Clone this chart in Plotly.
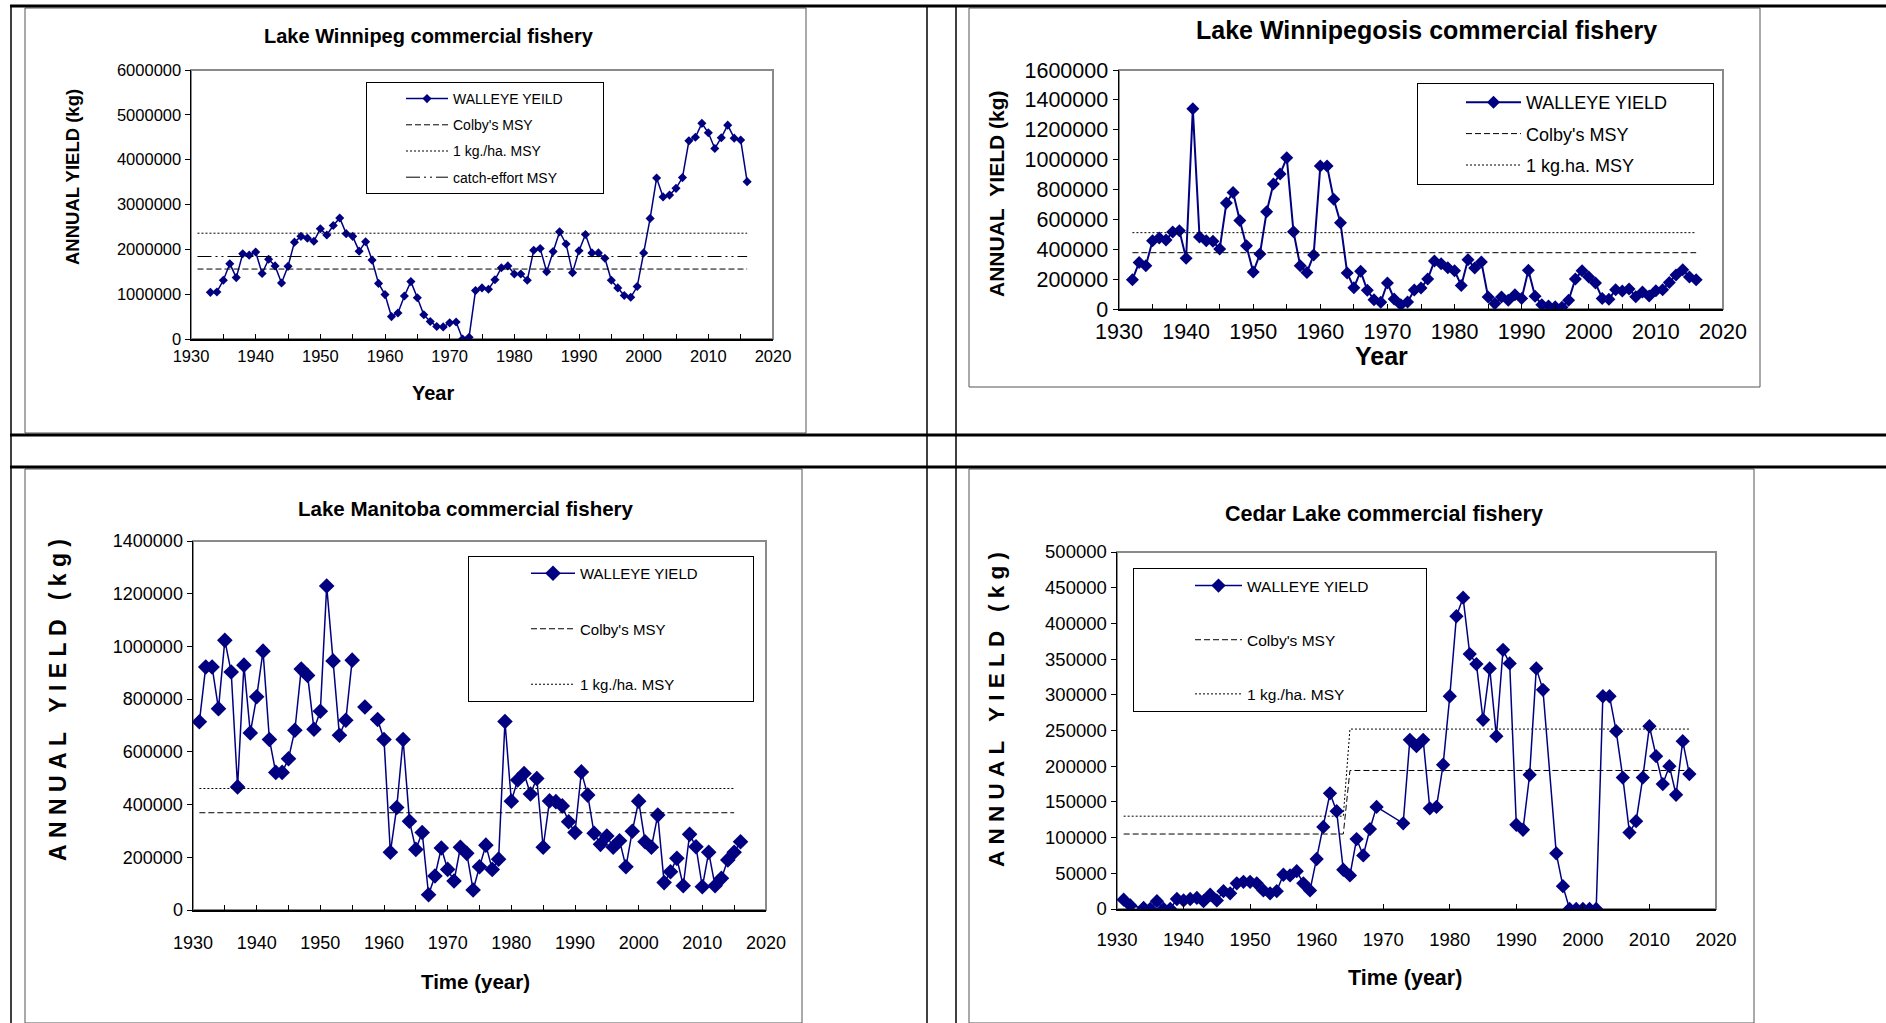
import plotly.graph_objects as go

W, H = 1886, 1023

# ---------------- data ----------------
winnipeg_years = list(range(1933, 2017))
winnipeg_yield = [1040000, 1050000, 1310000, 1680000, 1370000, 1900000, 1870000, 1940000, 1460000, 1780000,
                  1630000, 1250000, 1620000, 2160000, 2290000, 2250000, 2180000, 2460000, 2320000, 2530000,
                  2700000, 2350000, 2290000, 1960000, 2170000, 1760000, 1240000, 990000, 500000, 580000,
                  960000, 1280000, 920000, 540000, 390000, 280000, 270000, 360000, 380000, 0,
                  40000, 1080000, 1140000, 1110000, 1320000, 1590000, 1630000, 1450000, 1450000, 1310000,
                  1980000, 2020000, 1500000, 1950000, 2390000, 2120000, 1480000, 1970000, 2330000, 1920000,
                  1920000, 1800000, 1310000, 1140000, 970000, 930000, 1170000, 1920000, 2690000, 3590000,
                  3170000, 3210000, 3360000, 3600000, 4420000, 4500000, 4810000, 4600000, 4250000, 4490000,
                  4770000, 4480000, 4440000, 3510000]
winnipeg_msy_years = [1931, 2016]
winnipeg_colby = [1560000, 1560000]
winnipeg_kgha = [2360000, 2360000]
winnipeg_catch = [1840000, 1840000]

winnipegosis_years = list(range(1932, 2017))
winnipegosis_yield = [196000, 312000, 290000, 457000, 475000, 462000, 515000, 524000, 339000, 1340000,
                      482000, 457000, 453000, 401000, 709000, 780000, 593000, 424000, 247000, 368000,
                      651000, 836000, 903000, 1012000, 517000, 290000, 245000, 361000, 957000, 957000,
                      734000, 577000, 241000, 143000, 252000, 125000, 62000, 45000, 174000, 67000,
                      29000, 47000, 127000, 140000, 201000, 321000, 303000, 276000, 256000, 158000,
                      330000, 274000, 314000, 80000, 36000, 80000, 58000, 96000, 71000, 259000,
                      85000, 29000, 20000, 15000, 11000, 58000, 201000, 256000, 214000, 174000,
                      71000, 65000, 129000, 120000, 134000, 82000, 114000, 87000, 123000, 129000,
                      178000, 227000, 263000, 214000, 196000]
winnipegosis_msy_years = [1932, 2016]
winnipegosis_colby = [377000, 377000]
winnipegosis_kgha = [511000, 511000]

manitoba_years = list(range(1931, 2017))
manitoba_yield = [714000, 922000, 922000, 764000, 1023000, 903000, 467000, 929000, 672000, 809000,
                  982000, 647000, 522000, 522000, 574000, 682000, 914000, 890000, 686000, 754000,
                  1229000, 945000, 663000, 720000, 948000, None, 770000, None, 723000, 647000,
                  219000, 389000, 647000, 337000, 230000, 294000, 58000, 129000, 235000, 154000,
                  110000, 238000, 215000, 76000, 164000, 246000, 154000, 193000, 715000, 413000,
                  493000, 518000, 440000, 499000, 238000, 414000, 411000, 395000, 335000, 294000,
                  524000, 436000, 291000, 249000, 281000, 238000, 263000, 164000, 299000, 413000,
                  259000, 238000, 360000, 104000, 145000, 196000, 92000, 287000, 240000, 88000,
                  219000, 92000, 120000, 190000, 219000, 259000]
manitoba_msy_years = [1931, 2015]
manitoba_colby = [369000, 369000]
manitoba_kgha = [461000, 461000]

cedar_years = [1931, 1932] + list(range(1934, 1970)) + list(range(1973, 1995)) + list(range(1996, 2017))
cedar_yield = [13000, 5000,
               1500, 0, 11000, 0, 0, 14000, 12000, 14000, 15500, 11000, 20000, 12000, 25000, 22000,
               36000, 38000, 38000, 36000, 26000, 22000, 25000, 48000, 47000, 53000, 36000, 26000,
               70000, 115000, 162000, 137000, 55000, 47000, 98000, 75000, 112000, 143000,
               120000, 237000, 228000, 237000, 141000, 143000, 202000, 298000, 410000, 436000, 357000,
               343000, 265000, 337000, 242000, 363000, 344000, 118000, 111000, 188000, 337000, 307000,
               78000, 32000, 0, 0, 0, 0, 0, 298000, 298000, 249000, 184000, 107000, 123000, 184000,
               256000, 214000, 175000, 200000, 160000, 235000, 189000]
cedar_msy_years = [1931, 1964, 1965, 2016]
cedar_colby = [105000, 105000, 194000, 194000]
cedar_kgha = [130000, 130000, 252000, 252000]

# ---------------- styling ----------------
NAVY = "#000080"
SANS = "Liberation Sans, Arial, sans-serif"
DASH = "6px,3px"
DOT = "2px,2px"
DASHDOT = "14px,4px,2px,4px,2px,4px"
NB = "\u00a0"


def px(x):
    return x / W


def py(y):
    return 1 - y / H


panels = [
    dict(xd=(191, 773), yd=(70, 339), ymax=6000000, dtick=1000000, tick=16.5, minor=5, standoff=2,
         leg=(366, 82), legfont=14, gap=5, ind=34, iw=42, pad=9, ms=7, lw=1.5),
    dict(xd=(1119, 1723), yd=(70, 309), ymax=1600000, dtick=200000, tick=21.5, minor=5, standoff=3,
         leg=(1417, 83), legfont=18, gap=5, ind=43, iw=55, pad=8, ms=10, lw=2),
    dict(xd=(193, 766), yd=(541, 910), ymax=1400000, dtick=200000, tick=18, minor=5, standoff=16,
         leg=(468, 556), legfont=15, gap=33, ind=57, iw=44, pad=12, ms=12, lw=1.5),
    dict(xd=(1117, 1716), yd=(552, 909), ymax=500000, dtick=50000, tick=18.5, minor=None, standoff=13,
         leg=(1133, 568), legfont=15.5, gap=31, ind=56, iw=47, pad=12, ms=11, lw=1.5),
]

fig = go.Figure()
layout = dict(width=W, height=H, margin=dict(l=0, r=0, t=0, b=0, pad=0, autoexpand=False),
              paper_bgcolor="white", plot_bgcolor="white", showlegend=True)

series = [
    (winnipeg_years, winnipeg_yield, "WALLEYE YEILD",
     [(winnipeg_msy_years, winnipeg_colby, "Colby's MSY", DASH),
      (winnipeg_msy_years, winnipeg_kgha, "1 kg./ha. MSY", DOT),
      (winnipeg_msy_years, winnipeg_catch, "catch-effort MSY", DASHDOT)]),
    (winnipegosis_years, winnipegosis_yield, "WALLEYE YIELD",
     [(winnipegosis_msy_years, winnipegosis_colby, "Colby's MSY", DASH),
      (winnipegosis_msy_years, winnipegosis_kgha, "1 kg.ha. MSY", DOT)]),
    (manitoba_years, manitoba_yield, "WALLEYE YIELD",
     [(manitoba_msy_years, manitoba_colby, "Colby's MSY", DASH),
      (manitoba_msy_years, manitoba_kgha, "1 kg./ha. MSY", DOT)]),
    (cedar_years, cedar_yield, "WALLEYE YIELD",
     [(cedar_msy_years, cedar_colby, "Colby's MSY", DASH),
      (cedar_msy_years, cedar_kgha, "1 kg./ha. MSY", DOT)]),
]

shapes = []
for i, (p, (yrs, vals, name, msy)) in enumerate(zip(panels, series)):
    n = i + 1
    xa = "x" if n == 1 else f"x{n}"
    ya = "y" if n == 1 else f"y{n}"
    lg = "legend" if n == 1 else f"legend{n}"
    fig.add_trace(go.Scatter(x=yrs, y=vals, name=name + NB * p["pad"], mode="lines+markers",
                             xaxis=xa, yaxis=ya,
                             line=dict(color=NAVY, width=p["lw"]),
                             marker=dict(symbol="diamond", size=p["ms"], color=NAVY),
                             connectgaps=(n == 4), legend=lg, legendgroup=f"g{n}a"))
    for j, (mx, my, mname, dash) in enumerate(msy):
        fig.add_trace(go.Scatter(x=mx, y=my, name=mname, mode="lines", xaxis=xa, yaxis=ya,
                                 line=dict(color="black", width=1, dash=dash),
                                 legend=lg, legendgroup=f"g{n}{j}"))
    xkey = "xaxis" if n == 1 else f"xaxis{n}"
    ykey = "yaxis" if n == 1 else f"yaxis{n}"
    xaxis = dict(domain=[px(p["xd"][0]), px(p["xd"][1])], anchor=ya, range=[1930, 2020],
                 dtick=10, tick0=1930, ticks="inside", ticklen=5, tickcolor="black",
                 ticklabelstandoff=p["standoff"],
                 showline=True, linecolor="black", linewidth=1.5, showgrid=False, zeroline=False,
                 automargin=False,
                 tickfont=dict(family=SANS, size=p["tick"], color="black"), fixedrange=True)
    if p["minor"]:
        xaxis["minor"] = dict(dtick=p["minor"], ticks="inside", ticklen=5, tickcolor="black")
    yaxis = dict(domain=[py(p["yd"][1]), py(p["yd"][0])], anchor=xa, range=[0, p["ymax"]],
                 dtick=p["dtick"], ticks="outside", ticklen=5, tickcolor="black", tickformat="d",
                 showline=True, linecolor="black", linewidth=1.5, showgrid=False, zeroline=False,
                 automargin=False,
                 tickfont=dict(family=SANS, size=p["tick"], color="black"), fixedrange=True)
    layout[xkey] = xaxis
    layout[ykey] = yaxis
    layout[lg] = dict(x=px(p["leg"][0]), y=py(p["leg"][1]), xanchor="left", yanchor="top",
                      bordercolor="black", borderwidth=1, bgcolor="white",
                      traceorder="grouped", tracegroupgap=p["gap"], indentation=p["ind"],
                      itemwidth=p["iw"],
                      font=dict(family=SANS, size=p["legfont"], color="black"))
    # plot-area border (gray, Excel style)
    shapes.append(dict(type="rect", xref=f"{xa} domain", yref=f"{ya} domain", x0=0, x1=1, y0=0, y1=1,
                       line=dict(color="#8a8a8a", width=2), layer="below"))

# panel frames
for (x0, y0, x1, y1) in [(25, 8, 806, 433), (969, 8, 1760, 387), (25, 469, 802, 1023), (969, 469, 1754, 1023)]:
    shapes.append(dict(type="rect", xref="paper", yref="paper", x0=px(x0), x1=px(x1), y0=py(y1), y1=py(y0),
                       line=dict(color="#555555", width=1), layer="below"))
# table rules
for y in (6, 435, 467):
    shapes.append(dict(type="line", xref="paper", yref="paper", x0=px(10), x1=1, y0=py(y), y1=py(y),
                       line=dict(color="black", width=3)))
for x in (11, 927, 956):
    shapes.append(dict(type="line", xref="paper", yref="paper", x0=px(x), x1=px(x), y0=0, y1=py(5),
                       line=dict(color="black", width=1.5)))
layout["shapes"] = shapes


def spaced(word):
    return NB.join(list(word))


ytitle_wide = spaced("ANNUAL") + NB * 3 + spaced("YIELD") + NB * 3 + spaced("(kg)")

ann = [
    # titles
    dict(text="<b>Lake Winnipeg commercial fishery</b>", x=429, y=36, size=20),
    dict(text="<b>Lake Winnipegosis commercial fishery</b>", x=1426, y=30, size=25),
    dict(text="<b>Lake Manitoba commercial fishery</b>", x=466, y=508, size=20.5),
    dict(text="<b>Cedar Lake commercial fishery</b>", x=1384, y=514, size=21.5),
    # x titles
    dict(text="<b>Year</b>", x=433, y=393, size=20),
    dict(text="<b>Year</b>", x=1381, y=356, size=25),
    dict(text="<b>Time (year)</b>", x=475, y=981, size=20.5),
    dict(text="<b>Time (year)</b>", x=1405, y=978, size=21.5),
    # y titles
    dict(text="<b>ANNUAL YIELD (kg)</b>", x=72, y=177, size=18.5, rot=-90),
    dict(text="<b>ANNUAL" + NB * 2 + "YIELD (kg)</b>", x=996, y=194, size=21, rot=-90),
    dict(text="<b>" + ytitle_wide + "</b>", x=58, y=700, size=23, rot=-90),
    dict(text="<b>" + ytitle_wide + "</b>", x=996, y=710, size=22.5, rot=-90),
]
layout["annotations"] = [
    dict(text=a["text"], x=px(a["x"]), y=py(a["y"]), xref="paper", yref="paper", showarrow=False,
         xanchor="center", yanchor="middle", textangle=a.get("rot", 0),
         font=dict(family=SANS, size=a["size"], color="black"))
    for a in ann
]

fig.update_layout(**layout)
fig.write_html("out.html", config={"displayModeBar": False, "staticPlot": True},
               post_script="document.body.style.margin='0';document.body.style.overflow='hidden';")
